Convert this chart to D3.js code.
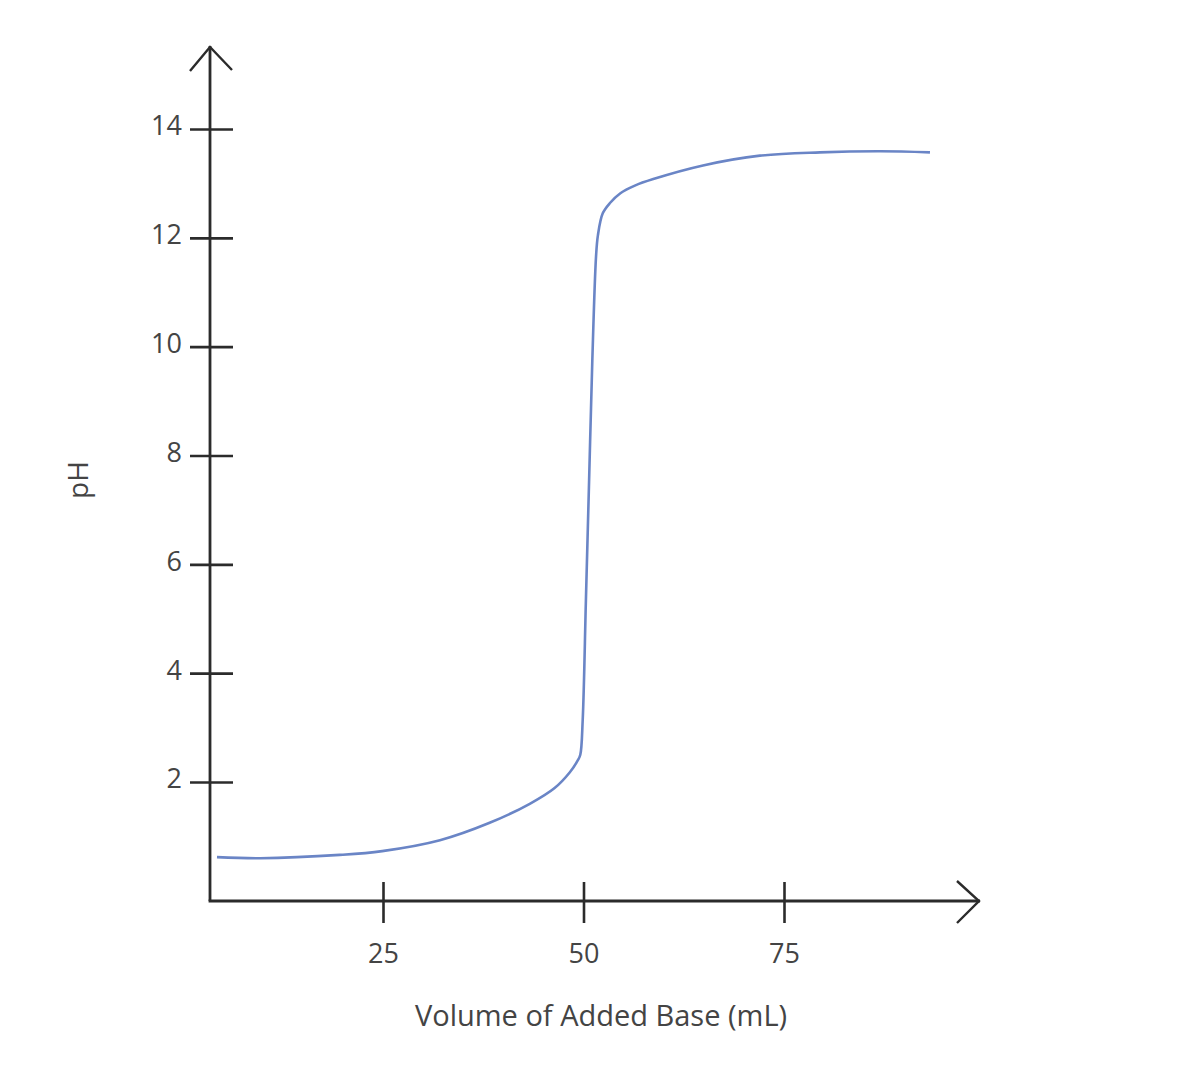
<!DOCTYPE html>
<html>
<head>
<meta charset="utf-8">
<script src="https://cdn.jsdelivr.net/npm/d3@7/dist/d3.min.js"></script>
<style>
  html, body { margin: 0; padding: 0; background: #fff; }
  svg { display: block; }
  text { font-family: "Open Sans", "Noto Sans", sans-serif; fill: #444; }
</style>
</head>
<body>
<svg id="chart" width="1184" height="1092"></svg>
<script>
// ---- data ----
const volumes = [4.3, 9.7, 19.6, 24.9, 32.1, 38.3, 43.3, 46.4, 48.3, 49.3, 49.6, 49.9, 50.3, 50.7, 51.1, 51.56, 51.8, 52.4, 53.3, 54.6, 56.4, 58.7, 64.9, 72.0, 79.5, 87.0, 93.2];
const phValues = [0.62, 0.60, 0.66, 0.73, 0.93, 1.25, 1.60, 1.89, 2.18, 2.40, 2.50, 3.14, 5.34, 7.55, 9.75, 11.65, 12.05, 12.45, 12.64, 12.82, 12.96, 13.08, 13.33, 13.51, 13.57, 13.59, 13.57];
const xTicks = [25, 50, 75];
const yTicks = [2, 4, 6, 8, 10, 12, 14];
const xLabel = "Volume of Added Base (mL)";
const yLabel = "pH";

// ---- layout ----
const svg = d3.select("#chart");
const axisColor = "#2b2b2b";
const lineColor = "#6a85c6";
const font = '"Open Sans", "Noto Sans", sans-serif';

const x = d3.scaleLinear().domain([25, 75]).range([383, 784]);
const y = d3.scaleLinear().domain([2, 14]).range([782, 129]);

const originX = 210, originY = 901;
const xEnd = 980, yEnd = 46;

// y axis
const yAxis = svg.append("g").attr("transform", `translate(${originX},0)`)
  .call(d3.axisLeft(y).tickValues(yTicks).tickSize(20).tickPadding(8));
yAxis.select(".domain").remove();
yAxis.selectAll(".tick line").attr("x1", 23).attr("stroke", axisColor).attr("stroke-width", 2.6);
yAxis.selectAll(".tick text").attr("font-size", 27).attr("fill", "#444").attr("dy", "0.22em")
  .style("font-family", font);

// x axis
const xAxis = svg.append("g").attr("transform", `translate(0,${originY})`)
  .call(d3.axisBottom(x).tickValues(xTicks).tickSize(22).tickPadding(21));
xAxis.select(".domain").remove();
xAxis.selectAll(".tick line").attr("y1", -19).attr("stroke", axisColor).attr("stroke-width", 2.6);
xAxis.selectAll(".tick text").attr("font-size", 27).attr("fill", "#444")
  .style("font-family", font);

// axis lines with open arrowheads
const axes = svg.append("g").attr("fill", "none").attr("stroke", axisColor)
  .attr("stroke-width", 2.8).attr("stroke-linecap", "butt");
axes.append("path").attr("d", `M${originX},${originY}V${yEnd}`);
axes.append("path").attr("d", `M${originX - 1.4},${originY}H${xEnd}`);
axes.append("path").attr("stroke-width", 2.4)
  .attr("d", `M${originX - 20},${yEnd + 25}L${originX},${yEnd + 1}L${originX + 22},${yEnd + 24}`);
axes.append("path").attr("stroke-width", 2.4)
  .attr("d", `M${xEnd - 23},${originY - 20}L${xEnd - 1},${originY}L${xEnd - 23},${originY + 22}`);

// curve
const pts = volumes.map((v, i) => [v, phValues[i]]);
svg.append("path").datum(pts)
  .attr("fill", "none").attr("stroke", lineColor).attr("stroke-width", 2.6)
  .attr("d", d3.line().x(d => x(d[0])).y(d => y(d[1])).curve(d3.curveCatmullRom.alpha(0.5)));

// labels
svg.append("text").attr("x", 601).attr("y", 1026).attr("text-anchor", "middle")
  .attr("font-size", 29).text(xLabel);
svg.append("text").attr("transform", "translate(88,480) rotate(-90)")
  .attr("text-anchor", "middle").attr("font-size", 28).text(yLabel);
</script>
</body>
</html>
